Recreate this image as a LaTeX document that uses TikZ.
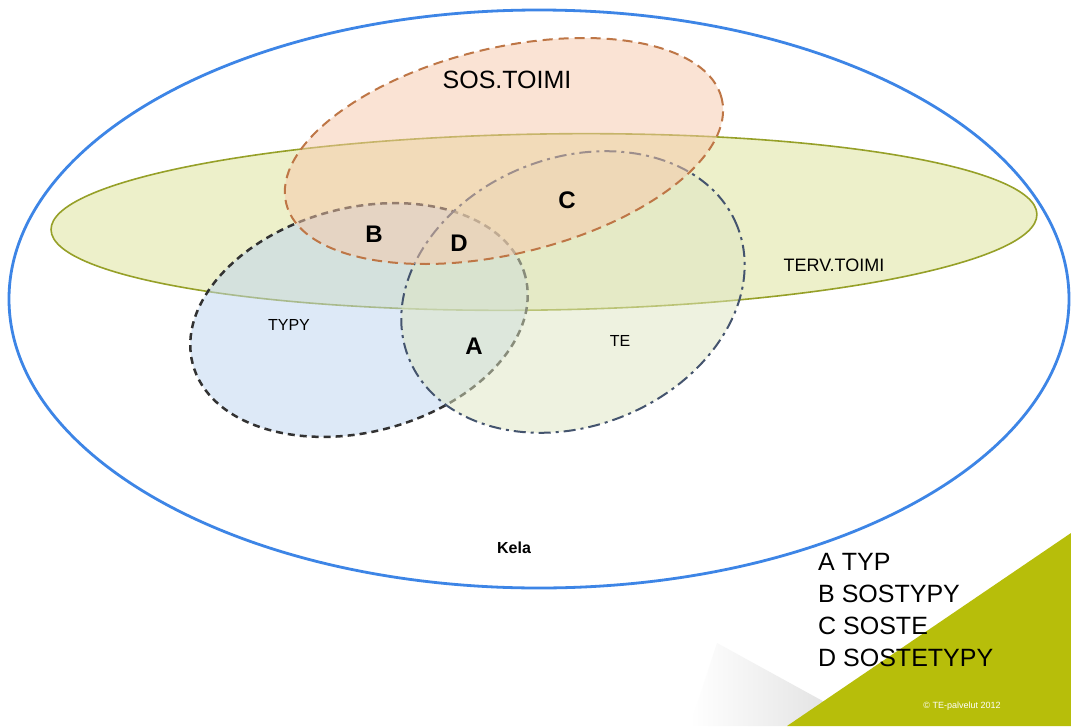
\documentclass[tikz,border=0pt]{standalone}
\usepackage{fontspec}
\setmainfont{Liberation Sans}
\usetikzlibrary{backgrounds}

\definecolor{kelablue}{RGB}{61,133,230}
\definecolor{tervfill}{RGB}{221,226,150}
\definecolor{tervline}{RGB}{150,160,40}
\definecolor{sosfill}{RGB}{247,200,170}
\definecolor{sosline}{RGB}{190,118,70}
\definecolor{typyfill}{RGB}{188,212,240}
\definecolor{typyline}{RGB}{50,50,50}
\definecolor{tefill}{RGB}{222,230,195}
\definecolor{teline}{RGB}{68,84,110}
\definecolor{teolive}{RGB}{183,190,10}

\begin{document}
\begin{tikzpicture}[x=1pt, y=1pt,
  background rectangle/.style={fill=white}, show background rectangle,
  inner frame sep=0pt,
  area/.style={fill opacity=.5, draw opacity=1},
  setlabel/.style={font=\fontsize{16}{19}\selectfont},
  zonelabel/.style={font=\fontsize{24}{28}\selectfont\bfseries},
  keyline/.style={anchor=base west, inner sep=0pt, font=\fontsize{25}{30}\selectfont}]
  \useasboundingbox (0,0) rectangle (1071,-726);
  % Centres of the sets
  \coordinate (K) at (539,-299);
  \coordinate (T) at (544,-222);
  \coordinate (Y) at (359,-320);
  \coordinate (E) at (573,-292);
  \coordinate (S) at (504,-151);

  % Corner decoration
  \shade[left color=white, right color=black!11] (690,-726) -- (717,-643) -- (830,-705) -- (787,-726) -- cycle;
  \fill[teolive] (787,-726) -- (1071,-533) -- (1071,-726) -- cycle;

  % Kela
  \draw[kelablue, line width=2.8pt, fill=white] (K) ellipse [x radius=530pt, y radius=289pt];
  % TERV.TOIMI
  \draw[area, fill=tervfill, draw=tervline, line width=1.6pt, rotate around={0.9:(T)}] (T) ellipse [x radius=493pt, y radius=88pt];
  % TYPY
  \draw[area, fill=typyfill, draw=typyline, line width=2.5pt, dash pattern=on 7pt off 5pt, rotate around={14.8:(Y)}] (Y) ellipse [x radius=172pt, y radius=112pt];
  % TE
  \draw[area, fill=tefill, draw=teline, line width=2pt, dash pattern=on 12pt off 5pt on 3pt off 5pt, rotate around={21.9:(E)}] (E) ellipse [x radius=177pt, y radius=134pt];
  % SOS.TOIMI
  \draw[area, fill=sosfill, draw=sosline, line width=2pt, dash pattern=on 10pt off 6pt, rotate around={13.5:(S)}] (S) ellipse [x radius=224pt, y radius=103pt];

  % Labels
  % Sets
  \node[font=\fontsize{25}{30}\selectfont] (sos) at (507,-80) {SOS.TOIMI};
  \node[font=\fontsize{18}{22}\selectfont] (terv) at (834,-265) {TERV.TOIMI};
  \node[setlabel] (typy) at (289,-325) {TYPY};
  \node[setlabel] (te) at (620,-341) {TE};
  \node[setlabel, font=\fontsize{16}{19}\selectfont\bfseries] (kela) at (514,-548) {Kela};
  % Intersections
  \node[zonelabel] (a) at (474,-346) {A};
  \node[zonelabel] (b) at (374,-234) {B};
  \node[zonelabel] (c) at (567,-200) {C};
  \node[zonelabel] (d) at (459,-243) {D};
  % Key
  \node[keyline] (keya) at (818,-570) {A TYP};
  \node[keyline] (keyb) at (818,-602) {B SOSTYPY};
  \node[keyline] (keyc) at (818,-634) {C SOSTE};
  \node[keyline] (keyd) at (818,-666) {D SOSTETYPY};
  \node[white, font=\fontsize{9}{11}\selectfont] (copy) at (962,-706) {© TE-palvelut 2012};
\end{tikzpicture}
\end{document}
